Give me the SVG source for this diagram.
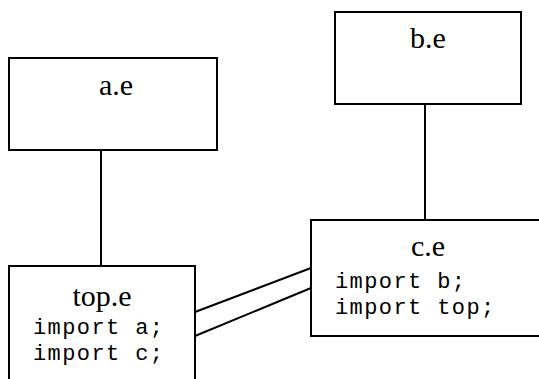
<svg xmlns="http://www.w3.org/2000/svg" width="539" height="379" viewBox="0 0 539 379">
  <style>
    .box { fill: #fff; stroke: #000; stroke-width: 2; }
    .edge { stroke: #000; stroke-width: 2; fill: none; }
    .title { font-family: "Liberation Serif", "Times New Roman", serif; font-size: 30px; text-anchor: middle; fill: #000; }
    .code { font-family: "Liberation Mono", "Courier New", monospace; font-size: 22px; letter-spacing: 1.4px; fill: #000; }
  </style>
  <rect width="539" height="379" fill="#fff"/>
  <g id="connectors">
    <line class="edge" x1="101" y1="150" x2="101" y2="266"/>
    <line class="edge" x1="425" y1="104" x2="425" y2="220"/>
    <line class="edge" x1="195" y1="312" x2="311" y2="268"/>
    <line class="edge" x1="195" y1="336" x2="311" y2="288"/>
  </g>
  <g id="node-a">
    <rect class="box" x="9" y="58" width="208" height="92"/>
    <text class="title" x="116" y="95">a.e</text>
  </g>
  <g id="node-b">
    <rect class="box" x="335" y="12" width="186" height="92"/>
    <text class="title" x="428" y="48">b.e</text>
  </g>
  <g id="node-c">
    <rect class="box" x="311" y="220" width="240" height="116"/>
    <text class="title" x="428" y="256">c.e</text>
    <text class="code" x="335" y="288">import b;</text>
    <text class="code" x="335" y="314">import top;</text>
  </g>
  <g id="node-top">
    <rect class="box" x="9" y="266" width="186" height="130"/>
    <text class="title" x="102" y="306">top.e</text>
    <text class="code" x="33" y="334">import a;</text>
    <text class="code" x="33" y="360">import c;</text>
  </g>
</svg>
